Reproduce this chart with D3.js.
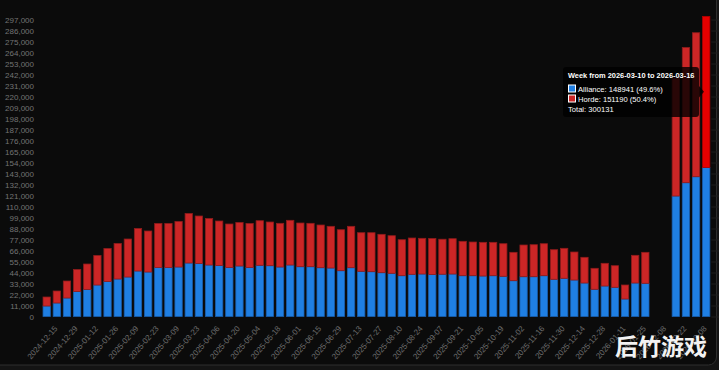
<!DOCTYPE html>
<html>
<head>
<meta charset="utf-8">
<script src="https://cdn.jsdelivr.net/npm/d3@7"></script>
<style>
  html, body { margin: 0; padding: 0; background: #141414; }
  svg { display: block; }
</style>
</head>
<body>
<svg id="chart"></svg>
<script>
// weekly labels (week start)
const weeks = ["2024-12-15","2024-12-22","2024-12-29","2025-01-05","2025-01-12","2025-01-19","2025-01-26",
  "2025-02-02","2025-02-09","2025-02-16","2025-02-23","2025-03-02","2025-03-09","2025-03-16","2025-03-23",
  "2025-03-30","2025-04-06","2025-04-13","2025-04-20","2025-04-27","2025-05-04","2025-05-11","2025-05-18",
  "2025-05-25","2025-06-01","2025-06-08","2025-06-15","2025-06-22","2025-06-29","2025-07-06","2025-07-13",
  "2025-07-20","2025-07-27","2025-08-03","2025-08-10","2025-08-17","2025-08-24","2025-08-31","2025-09-07",
  "2025-09-14","2025-09-21","2025-09-28","2025-10-05","2025-10-12","2025-10-19","2025-10-26","2025-11-02",
  "2025-11-09","2025-11-16","2025-11-23","2025-11-30","2025-12-07","2025-12-14","2025-12-21","2025-12-28",
  "2026-01-04","2026-01-11","2026-01-18","2026-01-25","2026-02-01","2026-02-08","2026-02-15","2026-02-22",
  "2026-03-01","2026-03-08","2026-03-15"]

const alliance = [10500,13500,18500,25000,27000,31500,35000,37500,39500,45500,44500,49000,49000,49500,53500,
  53000,51500,51000,49000,50500,49000,51200,50800,49500,51500,49800,49800,48800,48500,45800,48800,
  45200,44800,43800,43200,40800,42200,42500,42000,42300,42500,40800,40800,40500,40800,40200,35800,
  39800,39800,40800,37200,38200,36500,33500,27200,30500,29200,17500,33500,33200,0,0,
  120500,133800,139800,148941]

const horde = [9000,12000,17000,22000,25500,29500,33000,35500,38000,42500,41000,44000,44000,45500,49500,
  47500,46500,44500,43500,43500,44000,44600,43700,43700,44700,43700,43400,42700,41700,41000,41400,
  38600,39000,38400,37600,36000,36300,35700,36000,35000,35300,34400,33700,33700,33400,32600,28400,
  31700,32000,32000,29600,30000,28000,25700,21000,22700,21600,14000,27700,31000,0,0,
  118000,135200,144000,151190]

const yTicks = d3.range(0, 297001, 11000)

const hovered = 65
const tooltipTitle = "Week from 2026-03-10 to 2026-03-16"

const dimensions = {
  width: 719,
  height: 370,
  margin: { top: 16.4, right: 7.7, bottom: 53.5, left: 41.6 },
}

const svg = d3.select("#chart")
  .attr("width", dimensions.width)
  .attr("height", dimensions.height)

// card background
svg.append("rect")
  .attr("x", -10).attr("y", -10)
  .attr("width", 726.5).attr("height", 375)
  .attr("rx", 8)
  .attr("fill", "#0b0b0b")
  .attr("stroke", "#2e2e2e")
  .attr("stroke-width", 1)

const totals = alliance.map((a, i) => a + horde[i])

const xScale = d3.scaleBand()
  .domain(weeks)
  .range([dimensions.margin.left, dimensions.width - dimensions.margin.right])

const yScale = d3.scaleLinear()
  .domain([0, d3.max(totals)])
  .range([dimensions.height - dimensions.margin.bottom, dimensions.margin.top])

// grid + y labels
const yAxis = d3.axisLeft(yScale)
  .tickValues(yTicks)
  .tickSize(-(dimensions.width - dimensions.margin.right - 36))
  .tickPadding(2)
  .tickFormat(d3.format(","))

const yAxisGroup = svg.append("g")
  .attr("transform", `translate(${dimensions.width - dimensions.margin.right},0)`)
  .call(yAxis)
yAxisGroup.select(".domain").remove()
yAxisGroup.selectAll("line").attr("stroke", "#1e1e1e")
yAxisGroup.selectAll("text")
  .attr("x", -(dimensions.width - dimensions.margin.right - 34))
  .attr("fill", "#747474")
  .attr("font-size", "8px")
  .attr("font-family", "Liberation Sans, Arial, sans-serif")

// bars
const barW = xScale.bandwidth() * 0.72
const bars = svg.append("g")

bars.selectAll("rect.alliance")
  .data(weeks)
  .enter()
  .append("rect")
  .attr("class", "alliance")
  .attr("x", d => xScale(d) + (xScale.bandwidth() - barW) / 2)
  .attr("width", barW)
  .attr("y", (d, i) => yScale(alliance[i]))
  .attr("height", (d, i) => yScale(0) - yScale(alliance[i]))
  .attr("fill", "#1f7fe3")
  .attr("stroke", "#1a5fae")
  .attr("stroke-width", 0.8)
  .style("display", (d, i) => alliance[i] > 0 ? null : "none")

bars.selectAll("rect.horde")
  .data(weeks)
  .enter()
  .append("rect")
  .attr("class", "horde")
  .attr("x", d => xScale(d) + (xScale.bandwidth() - barW) / 2)
  .attr("width", barW)
  .attr("y", (d, i) => yScale(totals[i]))
  .attr("height", (d, i) => yScale(alliance[i]) - yScale(totals[i]))
  .attr("fill", (d, i) => i === hovered ? "#e60000" : "#cc2626")
  .attr("stroke", (d, i) => i === hovered ? "#b00000" : "#8f1c1c")
  .attr("stroke-width", 0.8)
  .style("display", (d, i) => horde[i] > 0 ? null : "none")

// x labels, every other week
const xLabels = svg.append("g")
  .selectAll("text")
  .data(weeks.filter((d, i) => i % 2 === 0))
  .enter()
  .append("text")
  .text(d => d)
  .attr("transform", d => `translate(${xScale(d) + xScale.bandwidth() / 2 + 9},327) rotate(-49)`)
  .attr("text-anchor", "end")
  .attr("dy", "0.35em")
  .attr("fill", "#6c6c6c")
  .attr("font-size", "8px")
  .attr("font-family", "Liberation Sans, Arial, sans-serif")

// tooltip
const tip = svg.append("g")
const tx = 563, ty = 67, tw = 136, th = 50
tip.append("rect")
  .attr("x", tx).attr("y", ty)
  .attr("width", tw).attr("height", th)
  .attr("rx", 3)
  .attr("fill", "rgba(0,0,0,0.8)")
tip.append("path")
  .attr("d", `M${tx + tw},${ty + 19} L${tx + tw + 5},${ty + 24.7} L${tx + tw},${ty + 30.4} Z`)
  .attr("fill", "rgba(0,0,0,0.8)")

const font = "Liberation Sans, Arial, sans-serif"
tip.append("text")
  .text(tooltipTitle)
  .attr("x", tx + 5).attr("y", ty + 11)
  .attr("fill", "#fff")
  .attr("font-size", "7.4px")
  .attr("font-weight", "bold")
  .attr("font-family", font)

const pct = v => (v / totals[hovered] * 100).toFixed(1)
const rows = [
  { label: `Alliance: ${alliance[hovered]} (${pct(alliance[hovered])}%)`, color: "#1f7fe3" },
  { label: `Horde: ${horde[hovered]} (${pct(horde[hovered])}%)`, color: "#cc2626" },
]
rows.forEach((r, i) => {
  tip.append("rect")
    .attr("x", tx + 5.5).attr("y", ty + 18 + i * 10)
    .attr("width", 7).attr("height", 7)
    .attr("fill", r.color)
    .attr("stroke", "#fff")
    .attr("stroke-width", 1)
  tip.append("text")
    .text(r.label)
    .attr("x", tx + 15).attr("y", ty + 24.5 + i * 10)
    .attr("fill", "#fff")
    .attr("font-size", "7.6px")
    .attr("font-family", font)
})
tip.append("text")
  .text(`Total: ${totals[hovered]}`)
  .attr("x", tx + 5).attr("y", ty + 44.5)
  .attr("fill", "#fff")
  .attr("font-size", "7.6px")
  .attr("font-family", font)

// watermark
svg.append("text")
  .text("后竹游戏")
  .attr("x", 707).attr("y", 355)
  .attr("text-anchor", "end")
  .attr("fill", "#f2f2f2")
  .attr("font-size", "23px")
  .attr("font-weight", "bold")
  .attr("font-family", "Noto Sans CJK SC, sans-serif")
</script>
</body>
</html>
